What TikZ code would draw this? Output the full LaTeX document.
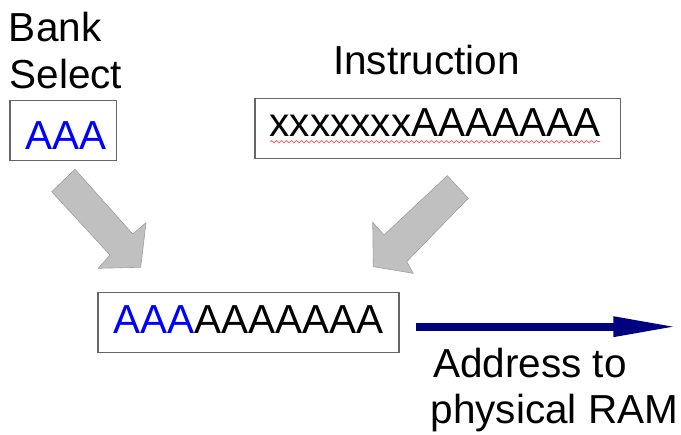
\documentclass[tikz,border=0pt]{standalone}
\usepackage{fontspec}
\setmainfont{Liberation Sans}
\usetikzlibrary{arrows.meta,decorations.pathmorphing}
\definecolor{boxline}{HTML}{666666}
\definecolor{arrowgray}{HTML}{C0C0C0}
\definecolor{arrowedge}{HTML}{A0A0A0}
\definecolor{navyarrow}{HTML}{000080}
\definecolor{pureblue}{HTML}{0000FF}
\definecolor{squig}{HTML}{FF6A6A}
\begin{document}
\begin{tikzpicture}[x=1pt,y=-1pt,
  bigtext/.style={inner sep=0pt,outer sep=0pt,anchor=base west,font=\fontsize{40.5}{46}\selectfont},
  regbox/.style={draw=boxline,line width=1.2pt,inner sep=0pt,anchor=north west},
  fatarrow/.style={fill=arrowgray,draw=arrowedge,line width=0.6pt,line join=miter}]
\useasboundingbox (0,0) rectangle (681,435);
% boxes
\node[regbox,minimum width=106.7pt,minimum height=60pt] (bankbox) at (9.3,100) {};
\node[regbox,minimum width=365.7pt,minimum height=59.4pt] (instbox) at (254.3,98.3) {};
\node[regbox,minimum width=301pt,minimum height=60pt] (addrbox) at (97.3,291.7) {};
% labels
\node[bigtext] (bank) at (9,41.7) {Bank};
\node[bigtext] (select) at (9.5,88.3) {Select};
\node[bigtext] (instr) at (333,75) {Instruction};
\node[bigtext,text=pureblue] (bankbits) at (25,150) {AAA};
\node[bigtext] (instbits) at (269.5,136.7) {xxxxxxxAAAAAAA};
\node[bigtext] (addrbits) at (113,333.3) {\textcolor{pureblue}{AAA}AAAAAAA};
\node[bigtext] (addrl1) at (433,377.3) {Address to};
\node[bigtext] (addrl2) at (430.6,423.3) {physical RAM};
% spell-check squiggle
\draw[squig,line width=0.9pt,decorate,decoration={snake,segment length=5pt,amplitude=1.1pt}]
  (instbits.base west) ++(0.5,5) coordinate (sqa) -- ++(330,0) coordinate (sqb);
% gray block arrows
\draw[fatarrow] (75,169.3) -- (51.7,191.7) -- (110,255) -- (98.3,268.3) -- (140.7,267.3)
  -- (146,222.7) -- (132.7,234) -- cycle;
\draw[fatarrow] (447.3,175.7) -- (468.3,198.3) -- (406.7,261.7) -- (413.3,273.3) -- (373.3,266.7)
  -- (372.7,222.3) -- (384,235) -- cycle;
% output arrow
\coordinate (outstart) at (416,326.7);
\coordinate (outend) at (678.3,326.7);
\draw[navyarrow,line width=8pt,-{Triangle[length=65pt,width=18.4pt]}] (outstart) -- (outend);
\end{tikzpicture}
\end{document}
